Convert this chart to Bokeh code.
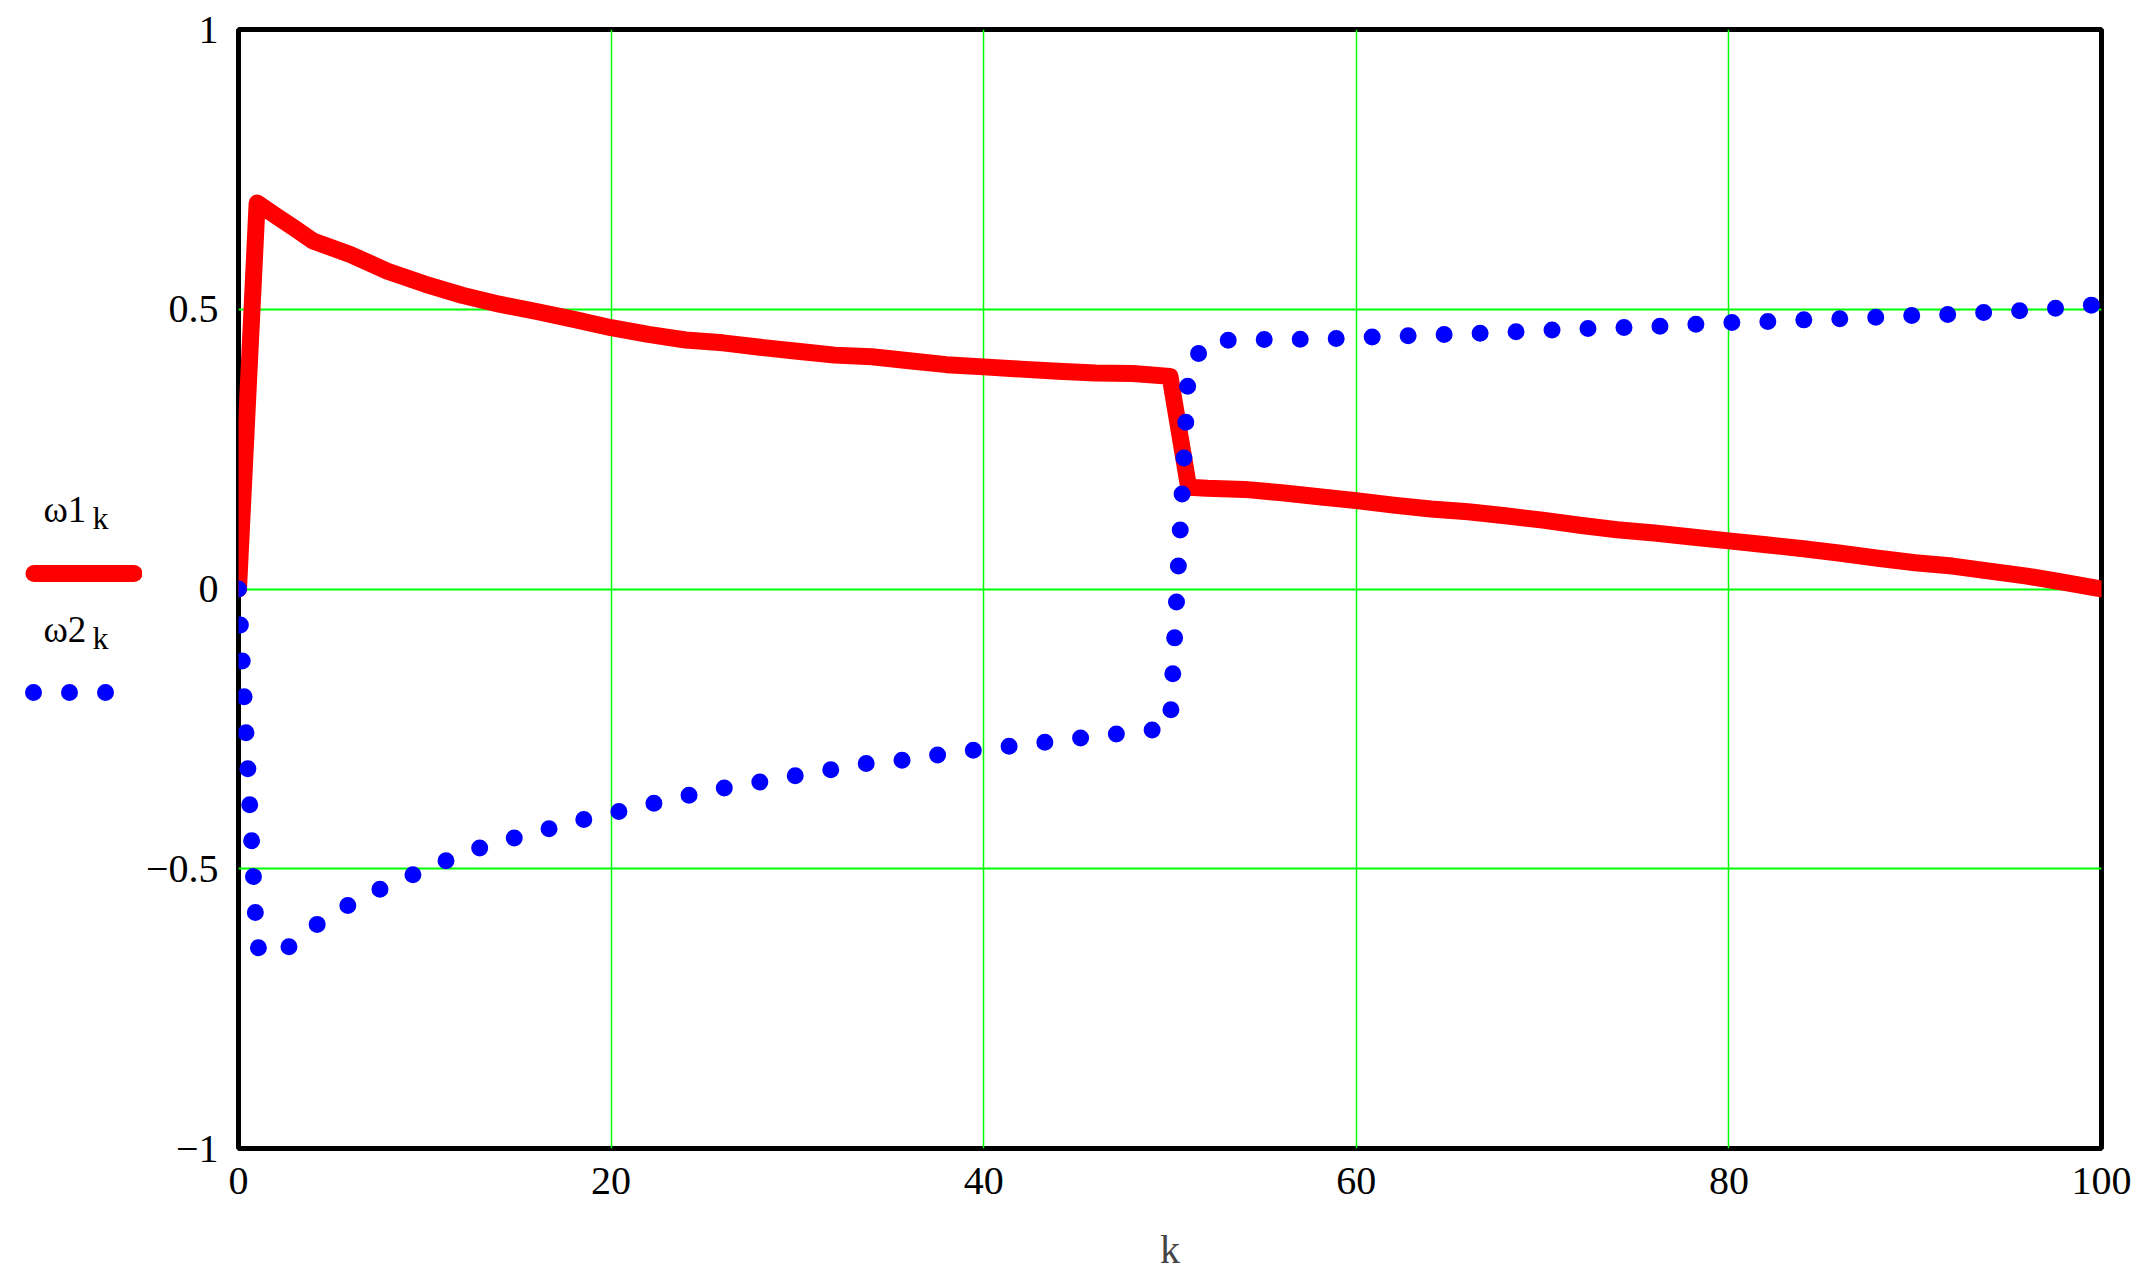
from bokeh.plotting import figure
from bokeh.models import Range1d, FixedTicker, CustomJSTickFormatter
from bokeh.layouts import row
from bokeh.embed import file_html
from bokeh.resources import INLINE
from bokeh.core.properties import value

# ---------------- data ----------------
k = [0, 1, 2, 3, 4, 6, 8, 10, 12, 14, 16, 18, 20, 22, 24, 26, 28, 30, 32, 34,
     36, 38, 40, 42, 44, 46, 48, 50, 51, 52, 54, 56, 58, 60, 62, 64, 66, 68,
     70, 72, 74, 76, 78, 80, 82, 84, 86, 88, 90, 92, 94, 96, 98, 100]

w1 = [0.0, 0.690, 0.667, 0.645, 0.622, 0.598, 0.568, 0.545, 0.525, 0.509,
      0.496, 0.482, 0.467, 0.455, 0.445, 0.440, 0.432, 0.425, 0.418, 0.415,
      0.408, 0.401, 0.397, 0.393, 0.389, 0.386, 0.385, 0.380, 0.182, 0.180,
      0.178, 0.172, 0.165, 0.158, 0.150, 0.143, 0.138, 0.131, 0.123, 0.114,
      0.106, 0.100, 0.093, 0.086, 0.079, 0.072, 0.064, 0.055, 0.047, 0.041,
      0.032, 0.023, 0.012, 0.0]

w2 = [0.0, -0.640, -0.657, -0.632, -0.604, -0.563, -0.530, -0.502, -0.473,
      -0.452, -0.435, -0.416, -0.401, -0.385, -0.370, -0.356, -0.345, -0.333,
      -0.322, -0.310, -0.305, -0.294, -0.286, -0.279, -0.271, -0.263, -0.256,
      -0.248, 0.396, 0.443, 0.446, 0.446, 0.447, 0.449, 0.452, 0.454, 0.456,
      0.459, 0.462, 0.465, 0.467, 0.469, 0.473, 0.476, 0.478, 0.481, 0.483,
      0.486, 0.489, 0.491, 0.495, 0.498, 0.503, 0.509]

x_ticks = [0, 20, 40, 60, 80, 100]
y_ticks = [-1, -0.5, 0, 0.5, 1]
x_label = "k"
legend_names = ["ω1", "ω2"]
legend_sub = "k"

# ---------------- styles ----------------
FONT = "Liberation Serif"
RED = "#ff0000"
BLUE = "#0000ff"
GREEN = "#00ff00"
LW = 17
DOTS = "0 36"

H = 1281
TOP = 29        # frame top (px)
BOTTOM = 1148   # frame bottom (px)
LEG_W = 142

# ---------------- main plot ----------------
p = figure(width=2001, height=H, x_range=Range1d(0, 100), y_range=Range1d(-1, 1),
           output_backend="svg", toolbar_location=None,
           min_border_left=95, min_border_right=42, min_border_top=TOP,
           min_border_bottom=H - BOTTOM)
p.background_fill_color = "white"
p.border_fill_color = "white"
p.outline_line_color = "black"
p.outline_line_width = 5

p.xaxis.ticker = FixedTicker(ticks=x_ticks)
p.yaxis.ticker = FixedTicker(ticks=y_ticks)
p.yaxis.formatter = CustomJSTickFormatter(
    code='return tick < 0 ? "\u2212" + String(-tick) : String(tick);')

for ax in (p.xaxis[0], p.yaxis[0]):
    ax.axis_line_color = None
    ax.major_tick_in = 0
    ax.major_tick_out = 0
    ax.minor_tick_in = 0
    ax.minor_tick_out = 0
    ax.major_label_text_font = FONT
    ax.major_label_text_font_size = "40px"
    ax.major_label_text_color = "black"
    ax.major_label_text_line_height = 1.0
p.xaxis.major_label_standoff = 19
p.yaxis.major_label_standoff = 20
p.xaxis.axis_label = x_label
p.xaxis.axis_label_text_font = FONT
p.xaxis.axis_label_text_font_size = "40px"
p.xaxis.axis_label_text_font_style = "normal"
p.xaxis.axis_label_text_line_height = 1.0
p.xaxis.axis_label_standoff = 30

p.xgrid.ticker = FixedTicker(ticks=x_ticks)
p.ygrid.ticker = FixedTicker(ticks=y_ticks)
p.xgrid.grid_line_color = GREEN
p.xgrid.grid_line_width = 1.5
p.xgrid.grid_line_alpha = 1
p.ygrid.grid_line_color = GREEN
p.ygrid.grid_line_width = 2
p.ygrid.grid_line_alpha = 1

p.line(k, w1, line_color=RED, line_width=LW, line_cap="round", line_join="round")
p.line(k, w2, line_color=BLUE, line_width=LW, line_cap="round", line_join="round",
       line_dash=DOTS)

# ---------------- legend panel (left); its data units are pixels ----------------
leg = figure(width=LEG_W, height=H, x_range=Range1d(0, LEG_W),
             y_range=Range1d(BOTTOM, TOP),
             output_backend="svg", toolbar_location=None,
             x_axis_location=None, y_axis_location=None,
             min_border_left=0, min_border_right=0,
             min_border_top=TOP, min_border_bottom=H - BOTTOM)
leg.outline_line_color = None
leg.background_fill_color = "white"
leg.border_fill_color = "white"
leg.xgrid.visible = False
leg.ygrid.visible = False

# item 1
leg.text(x=[43], y=[509], text=[legend_names[0]], text_font=value(FONT),
         text_font_size="37px", text_baseline="alphabetic", text_color="black")
leg.text(x=[92], y=[517], text=[legend_sub], text_font=value(FONT),
         text_font_size="32px", text_baseline="alphabetic", text_color="black")
leg.line([33.5, 133.5], [573, 573], line_color=RED, line_width=LW, line_cap="round")

# item 2
leg.text(x=[43], y=[629], text=[legend_names[1]], text_font=value(FONT),
         text_font_size="37px", text_baseline="alphabetic", text_color="black")
leg.text(x=[92], y=[637], text=[legend_sub], text_font=value(FONT),
         text_font_size="32px", text_baseline="alphabetic", text_color="black")
leg.line([33, 106], [692, 692], line_color=BLUE, line_width=LW, line_cap="round",
         line_dash=DOTS)

layout = row(leg, p)
open("out.html", "w").write(file_html(layout, INLINE))
